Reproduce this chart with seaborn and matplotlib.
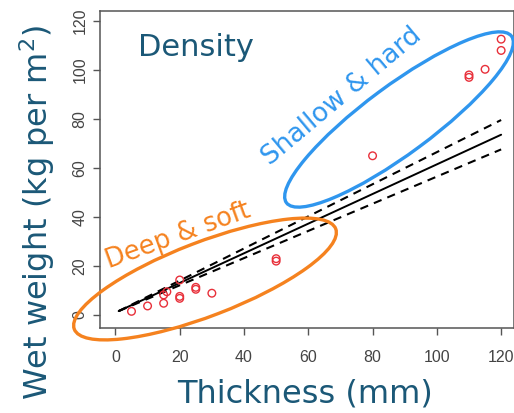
import matplotlib
matplotlib.use("Agg")
import matplotlib.pyplot as plt
from matplotlib.patches import Ellipse
import pandas as pd
import seaborn as sns

# Measured points (thickness in mm, wet weight in kg per m2)
thickness = [5, 10, 15, 15, 16, 20, 20, 20, 25, 25, 30, 50, 50, 80, 110, 110, 115, 120, 120]
wet_weight = [1.5, 3.7, 4.8, 8.2, 9.5, 6.8, 7.6, 14.3, 10.5, 11.3, 8.9, 22.0, 23.0, 65.0, 97.0, 98.0, 100.3, 108.0, 112.6]

# Fitted line and confidence band
fit_x = [1, 120]
fit_y = [1.6, 73.6]
fit_lo = [1.6, 67.6]
fit_hi = [1.6, 79.6]

x_ticks = [0, 20, 40, 60, 80, 100, 120]
y_ticks = [0, 20, 40, 60, 80, 100, 120]

teal = "#1b5877"
orange = "#f5821f"
blue = "#2f96ee"
red = "#e8303a"

df = pd.DataFrame({"thickness": thickness, "wet_weight": wet_weight})
fit_df = pd.DataFrame({"x": fit_x, "fit": fit_y, "lo": fit_lo, "hi": fit_hi})

sns.set_style("white")
plt.rcParams["font.family"] = ["DejaVu Sans"]

fig = plt.figure(figsize=(5.14, 4.13), dpi=100)
ax = fig.add_axes([100 / 514, 85 / 413, 414 / 514, 317 / 413])

sns.lineplot(data=fit_df, x="x", y="fit", color="black", linewidth=1.4, ax=ax)
sns.lineplot(data=fit_df, x="x", y="lo", color="black", linewidth=1.5,
             linestyle=(0, (4, 3)), ax=ax)
sns.lineplot(data=fit_df, x="x", y="hi", color="black", linewidth=1.5,
             linestyle=(0, (4, 3)), ax=ax)
sns.scatterplot(data=df, x="thickness", y="wet_weight", marker="o", s=30,
                facecolors="none", edgecolor=red, linewidth=1.0, ax=ax, zorder=3)

ax.set_xlim(-4.8, 124.0)
ax.set_ylim(-5.3, 124.1)
ax.set_xticks(x_ticks)
ax.set_yticks(y_ticks)
ax.set_xticklabels([str(v) for v in x_ticks], family="Liberation Sans", fontsize=11.5, color="#444444")
ax.set_yticklabels([str(v) for v in y_ticks], family="Liberation Sans", fontsize=11.5, color="#444444",
                   rotation=90, va="center")
ax.tick_params(axis="x", direction="out", length=5, width=1, color="#555555", pad=11, bottom=True)
ax.tick_params(axis="y", direction="out", length=5, width=1, color="#555555", pad=4, left=True)
for sp in ax.spines.values():
    sp.set_color("#555555")
    sp.set_linewidth(1.1)

ax.set_xlabel("Thickness (mm)", fontsize=23, color=teal)
ax.set_ylabel("Wet weight (kg per m$^2$)", fontsize=23, color=teal)
ax.xaxis.set_label_coords(0.495, -0.16)
ax.yaxis.set_label_coords(-0.104, 0.366)

# annotations placed in pixel space (inches from bottom-left)
tr = fig.dpi_scale_trans
fig.add_artist(Ellipse((2.05, (413 - 279) / 100), 2.80, 0.74, angle=21,
                       transform=tr, fill=False, edgecolor=orange, linewidth=2.4, clip_on=False))
fig.add_artist(Ellipse((3.99, (413 - 119.5) / 100), 2.80, 0.68, angle=36.5,
                       transform=tr, fill=False, edgecolor=blue, linewidth=2.4, clip_on=False))
fig.text(1.78, (413 - 236) / 100, "Deep & soft", transform=tr, rotation=20,
         rotation_mode="anchor", ha="center", va="center", fontsize=18.5, color=orange)
fig.text(3.42, (413 - 97) / 100, "Shallow & hard", transform=tr, rotation=40,
         rotation_mode="anchor", ha="center", va="center", fontsize=19, color=blue)
fig.text(1.96, (413 - 47) / 100, "Density", transform=tr, ha="center", va="center",
         fontsize=22, color=teal)

fig.savefig("out.png", dpi=100)
